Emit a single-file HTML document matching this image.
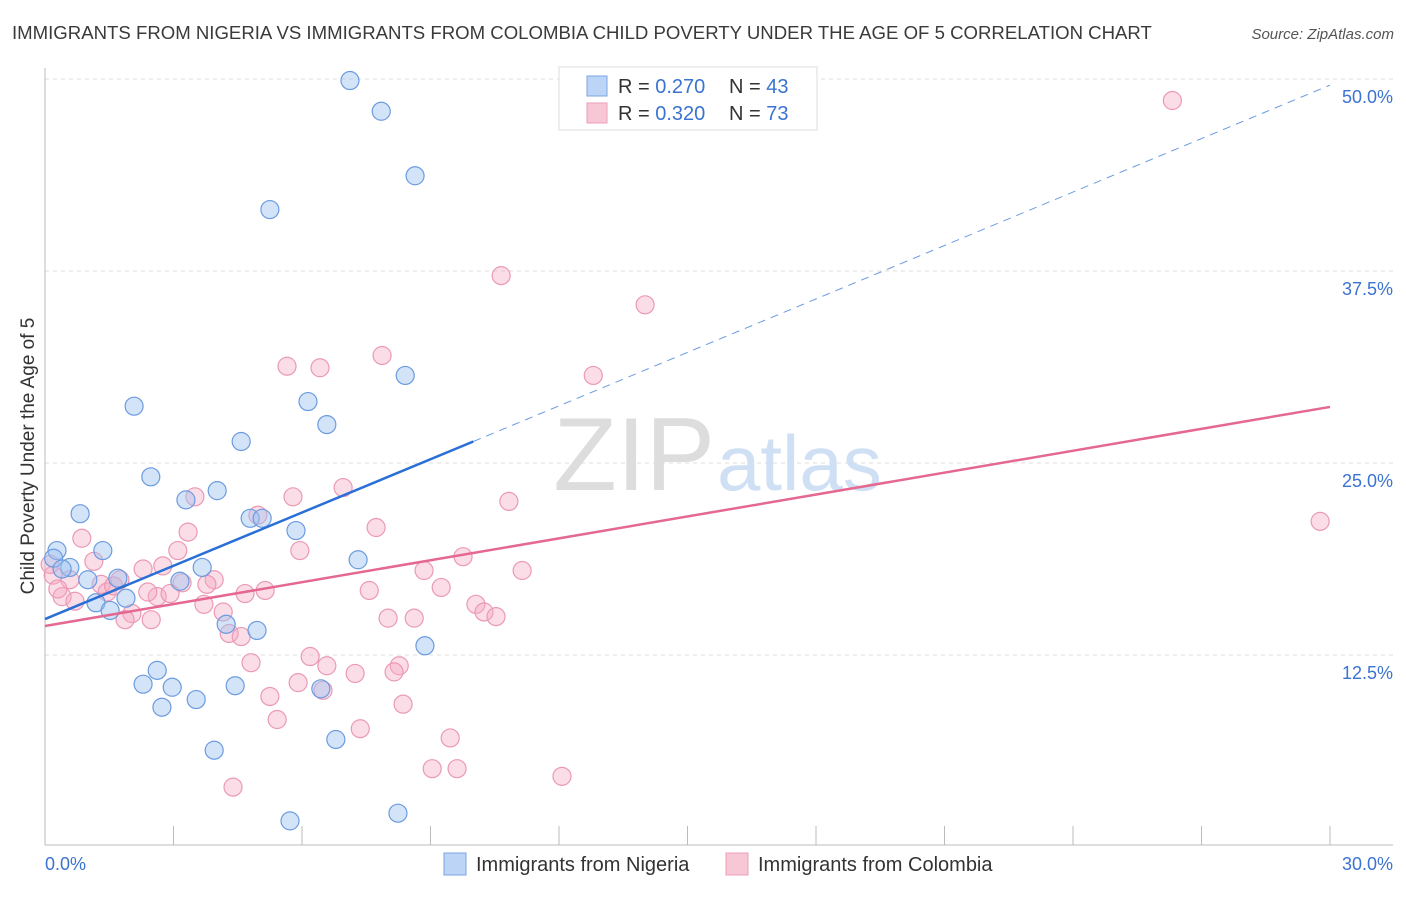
<!DOCTYPE html>
<html><head><meta charset="utf-8"><style>
body{margin:0;background:#fff;font-family:"Liberation Sans",sans-serif;}
svg text{font-family:"Liberation Sans",sans-serif;}
</style></head><body>
<svg width="1406" height="892" viewBox="0 0 1406 892">
<text x="12" y="39" font-size="18.6" fill="#3a3a3a">IMMIGRANTS FROM NIGERIA VS IMMIGRANTS FROM COLOMBIA CHILD POVERTY UNDER THE AGE OF 5 CORRELATION CHART</text>
<text x="1394" y="39" font-size="15" fill="#555" font-style="italic" text-anchor="end">Source: ZipAtlas.com</text>
<g id="grid"></g>
<text x="715" y="490" font-size="104" fill="#ddd" text-anchor="end" font-family="Liberation Serif,serif">ZIP</text>
<text x="717" y="490" font-size="78" fill="#cfe0f5">atlas</text>
<g id="axes"></g>
<g id="pts"></g>
<g id="lines"></g>
<g>
<rect x="559" y="67" width="258" height="63" fill="#fff" stroke="#ddd"/>
<rect x="587" y="76" width="20" height="20" fill="#bcd4f5" stroke="#7aa5e3"/>
<rect x="587" y="103" width="20" height="20" fill="#f8c7d6" stroke="#ec9fb8"/>
<text x="618" y="93" font-size="20" fill="#333">R = <tspan fill="#3b73d1">0.270</tspan></text>
<text x="729" y="93" font-size="20" fill="#333">N = <tspan fill="#3b73d1">43</tspan></text>
<text x="618" y="120" font-size="20" fill="#333">R = <tspan fill="#3b73d1">0.320</tspan></text>
<text x="729" y="120" font-size="20" fill="#333">N = <tspan fill="#3b73d1">73</tspan></text>
</g>
<g>
<rect x="444" y="853" width="22" height="22" fill="#bcd4f5" stroke="#7aa5e3"/>
<text x="476" y="871" font-size="20" fill="#333">Immigrants from Nigeria</text>
<rect x="726" y="853" width="22" height="22" fill="#f8c7d6" stroke="#ec9fb8"/>
<text x="758" y="871" font-size="20" fill="#333">Immigrants from Colombia</text>
</g>
<text x="34" y="456" font-size="19" fill="#333" text-anchor="middle" transform="rotate(-90 34 456)">Child Poverty Under the Age of 5</text>
</svg>
<script>
const yTicks=[12.5,25,37.5,50];
const yTickLabels=["12.5%","25.0%","37.5%","50.0%"];
const xTickLabels=["0.0%","30.0%"];
const nigeriaX=[7.12,7.85,8.64,5.25,8.41,2.08,6.14,6.58,4.58,2.47,3.29,4.02,0.82,4.79,5.07,5.86,0.28,1.35,7.31,0.58,3.67,1.70,1.0,3.15,1.89,1.19,1.52,4.23,4.95,8.87,2.62,2.29,2.97,4.44,6.44,3.53,2.73,6.79,3.95,8.24,5.72,0.2,0.4];
const nigeriaY=[49.9,47.9,43.7,41.5,30.7,28.7,29.0,27.5,26.4,24.1,22.6,23.2,21.7,21.4,21.4,20.6,19.3,19.3,18.7,18.2,18.2,17.5,17.4,17.3,16.2,15.9,15.4,14.5,14.1,13.1,11.5,10.6,10.4,10.5,10.3,9.6,9.1,7.0,6.3,2.2,1.7,18.8,18.1];
const colombiaX=[26.32,10.65,14.01,7.87,5.65,6.42,12.80,6.96,5.79,3.50,10.83,4.97,29.77,7.73,3.34,0.86,5.95,3.10,9.76,1.14,2.75,2.29,8.85,11.14,0.19,3.95,0.58,1.75,1.31,3.20,3.78,9.25,7.57,5.14,4.67,1.45,0.40,2.62,2.92,3.71,10.06,10.25,10.53,4.16,2.03,8.01,8.62,1.87,2.48,4.30,4.58,6.19,4.81,6.58,8.27,7.24,8.15,5.91,6.49,5.25,8.36,5.42,7.36,9.46,9.04,9.62,12.07,4.39,0.12,0.3,0.7,1.6,2.4];
const colombiaY=[48.6,37.2,35.3,32.0,31.3,31.2,30.7,23.4,22.8,22.8,22.5,21.6,21.2,20.8,20.5,20.1,19.3,19.3,18.9,18.6,18.3,18.1,18.0,18.0,17.7,17.4,17.4,17.4,17.1,17.2,17.1,16.9,16.7,16.7,16.5,16.6,16.3,16.3,16.5,15.8,15.8,15.3,15.0,15.3,15.2,14.9,14.9,14.8,14.8,13.9,13.7,12.4,12.0,11.8,11.8,11.3,11.4,10.7,10.2,9.8,9.3,8.3,7.7,7.1,5.1,5.1,4.6,3.9,18.4,16.8,16.0,17.0,16.6];
const trendX=[0,10,30];
const nigeriaTrend=[14.84,26.4,49.6];
const colombiaTrend=[14.39,19.1,28.65];
const NS="http://www.w3.org/2000/svg";
const xs=v=>45+v/30*1285, ys=v=>847-v*15.36;
function mk(t,a,p){const e=document.createElementNS(NS,t);for(const k in a)e.setAttribute(k,a[k]);p.appendChild(e);return e;}
const grid=document.getElementById('grid'),axes=document.getElementById('axes'),pts=document.getElementById('pts'),lines=document.getElementById('lines');
yTicks.forEach((t,i)=>{
 const l=mk('line',{x1:45,x2:1393,y1:ys(t),y2:ys(t),stroke:'#ddd','stroke-dasharray':'4,4'},grid);
 
 
 const tx=mk('text',{x:1393,y:ys(t)+24,'font-size':18,fill:'#3b73d1','text-anchor':'end'},grid);
 tx.textContent=yTickLabels[i];
 
 
});
const ax=mk('line',{x1:45,x2:1393,y1:845,y2:845,stroke:'#bbb'},axes);


const ay=mk('line',{x1:45,x2:45,y1:68,y2:845,stroke:'#bbb'},axes);


for(let i=0;i<=10;i++){const x=xs(i*3);
 const tk=mk('line',{x1:x,x2:x,y1:826,y2:845,stroke:'#bbb'},axes);
 
 }
[[0,'start'],[30,'end']].forEach((p,i)=>{const t=mk('text',{x:i?1393:45,y:870,'font-size':18,fill:'#3b73d1','text-anchor':p[1]},axes);
 t.textContent=xTickLabels[i];
 
 });
colombiaX.forEach((v,i)=>{const c=mk('circle',{cx:xs(v),cy:ys(colombiaY[i]),r:9,fill:'rgba(245,170,195,0.4)',stroke:'#eb99b5','stroke-width':1.2},pts);
 
 });
nigeriaX.forEach((v,i)=>{const c=mk('circle',{cx:xs(v),cy:ys(nigeriaY[i]),r:9,fill:'rgba(160,195,240,0.45)',stroke:'#6b9be0','stroke-width':1.2},pts);
 
 });
const b1=mk('line',{x1:xs(trendX[0]),y1:ys(nigeriaTrend[0]),x2:xs(trendX[1]),y2:ys(nigeriaTrend[1]),stroke:'#2a6fd6','stroke-width':2.5},lines);


const b2=mk('line',{x1:xs(trendX[1]),y1:ys(nigeriaTrend[1]),x2:xs(trendX[2]),y2:ys(nigeriaTrend[2]),stroke:'#6b9be0','stroke-width':1,'stroke-dasharray':'8,6'},lines);


const p1=mk('line',{x1:xs(trendX[0]),y1:ys(colombiaTrend[0]),x2:xs(trendX[2]),y2:ys(colombiaTrend[2]),stroke:'#e4688f','stroke-width':2.5},lines);


</script>
</body></html>
